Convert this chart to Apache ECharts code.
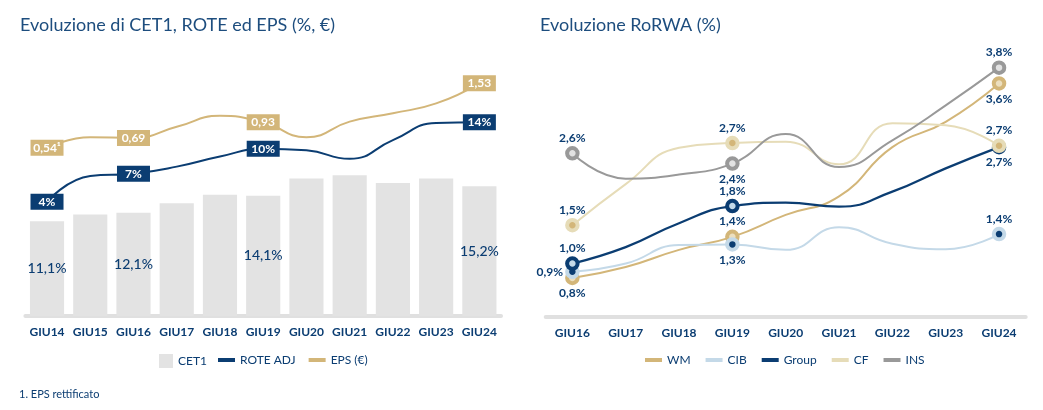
<!DOCTYPE html>
<html><head><meta charset="utf-8">
<script src="https://cdn.jsdelivr.net/npm/echarts@6/dist/echarts.min.js"></script>
<style>html,body{margin:0;padding:0;background:#fff}#c{width:1043px;height:410px}</style>
</head><body><div id="c"></div>
<script>
// ---------- data: left chart ----------
const leftCategories = ['GIU14','GIU15','GIU16','GIU17','GIU18','GIU19','GIU20','GIU21','GIU22','GIU23','GIU24'];
const cet1    = [11.1, 11.9, 12.1, 13.2, 14.2, 14.1, 16.1, 16.5, 15.6, 16.1, 15.2];
const roteAdj = [3.6, 6.9, 7.2, 8.1, 9.4, 10.4, 10.2, 9.1, 11.5, 13.7, 13.8];
const eps     = [0.54, 0.70, 0.69, 0.86, 1.03, 0.93, 0.70, 0.94, 1.07, 1.22, 1.53];
const leftLabelIdx = [0, 2, 5, 10];
const epsNotes = ['¹', '', '', '', '', '', '', '', '', '', ''];

// ---------- data: right chart ----------
const rightCategories = ['GIU16','GIU17','GIU18','GIU19','GIU20','GIU21','GIU22','GIU23','GIU24'];
const wm    = [0.77, 0.93, 1.18, 1.37, 1.69, 1.96, 2.68, 3.05, 3.61];
const cib   = [0.86, 0.98, 1.25, 1.26, 1.18, 1.51, 1.27, 1.19, 1.41];
const group = [0.98, 1.22, 1.57, 1.82, 1.87, 1.81, 2.03, 2.37, 2.68];
const cf    = [1.54, 2.14, 2.67, 2.74, 2.76, 2.43, 3.03, 3.00, 2.70];
const ins   = [2.59, 2.22, 2.28, 2.44, 2.87, 2.39, 2.78, 3.29, 3.84];
const rightLabelIdx = [0, 3, 8];

// ---------- styles ----------
const NAVY = '#0b3d72', GOLD = '#d3b679', BEIGE = '#e6dcb8', LBLUE = '#c4d9e8', GRAY = '#999999';
const TXT = '#0b3d72';
const FONT = 'Lato';

const rightLabelPos = {
  WM: ['bottom', 'top', 'bottom'],
  CIB: ['left', 'bottom', 'top'],
  Group: ['top', 'top', 'bottom'],
  CF: ['top', 'top', 'top'],
  INS: ['top', 'bottom', 'top']
};
const markerStyle = {
  WM: {color: '#ecdfbf', borderColor: GOLD},
  CIB: {color: NAVY, borderColor: LBLUE},
  Group: {color: LBLUE, borderColor: NAVY},
  CF: {color: GOLD, borderColor: BEIGE},
  INS: {color: '#e2e2e2', borderColor: GRAY}
};
const pct1 = v => v.toFixed(1).replace('.', ',') + '%';

function rightItems(name, vals) {
  return vals.map((v, i) => {
    const k = rightLabelIdx.indexOf(i);
    if (k < 0) return {value: v, symbol: 'none'};
    return {
      value: v, symbol: 'circle', symbolSize: 10.5,
      itemStyle: Object.assign({borderWidth: 4}, markerStyle[name]),
      label: {show: true, position: rightLabelPos[name][k], distance: 2}
    };
  });
}
function rightSeries(name, vals, color, width) {
  return {
    name, type: 'line', xAxisIndex: 1, yAxisIndex: 3, smooth: true,
    showAllSymbol: true,
    itemStyle: {color},
    lineStyle: {color, width: width || 2},
    label: {show: false, color: TXT, fontFamily: FONT, fontSize: 12, fontWeight: 'bold',
            formatter: p => pct1(p.value)},
    data: rightItems(name, vals)
  };
}
function leftLineItems(vals) {
  return vals.map((v, i) => leftLabelIdx.indexOf(i) < 0
    ? {value: v, symbol: 'none'}
    : {value: v, symbol: 'circle', symbolSize: 1, label: {show: true}});
}
function boxLabel(bg, fmt) {
  return {show: false, position: 'inside', backgroundColor: bg, color: '#fff',
          fontFamily: FONT, fontSize: 12, fontWeight: 'bold',
          width: 33, height: 16, lineHeight: 16, align: 'center', padding: 0,
          formatter: fmt};
}
const axisLabelStyle = {color: TXT, fontSize: 12, fontWeight: 'bold', fontFamily: FONT, margin: 10, interval: 0};
const legendText = {color: TXT, fontSize: 12, fontFamily: FONT};

const option = {
  animation: false,
  textStyle: {fontFamily: FONT},
  title: [
    {text: 'Evoluzione di CET1, ROTE ed EPS (%, €)', left: 15, top: 11,
     textStyle: {fontFamily: FONT, fontSize: 18, fontWeight: 'normal', color: '#1d4d7e'}},
    {text: 'Evoluzione RoRWA (%)', left: 535, top: 11,
     textStyle: {fontFamily: FONT, fontSize: 18, fontWeight: 'normal', color: '#1d4d7e'}},
    {text: '1. EPS rettificato', left: 14, top: 384,
     textStyle: {fontFamily: FONT, fontSize: 11, fontWeight: 'normal', color: TXT}}
  ],
  legend: [
    {data: ['CET1'], left: 154, top: 349, icon: 'rect', itemWidth: 14, itemHeight: 14, textStyle: legendText},
    {data: ['ROTE ADJ', 'EPS (€)'], left: 213, top: 349, icon: 'rect', itemWidth: 17, itemHeight: 4, itemGap: 13,
     textStyle: legendText},
    {data: ['WM', 'CIB', 'Group', 'CF', 'INS'], left: 640, top: 349, icon: 'rect', itemWidth: 17, itemHeight: 4, itemGap: 15,
     itemStyle: {borderWidth: 0}, textStyle: legendText}
  ],
  grid: [
    {left: 25.4, width: 475.6, top: 60, bottom: 94},
    {left: 545.7, width: 480, top: 60, bottom: 93}
  ],
  xAxis: [
    {type: 'category', gridIndex: 0, data: leftCategories,
     axisLine: {lineStyle: {color: '#e0e0e0', width: 4}}, axisTick: {show: false},
     axisLabel: axisLabelStyle},
    {type: 'category', gridIndex: 1, data: rightCategories,
     axisLine: {lineStyle: {color: '#e0e0e0', width: 4}}, axisTick: {show: false},
     axisLabel: axisLabelStyle}
  ],
  yAxis: [
    {type: 'value', gridIndex: 0, min: 0, max: 30, show: false},
    {type: 'value', gridIndex: 0, min: -11.05, max: 21.77, show: false},
    {type: 'value', gridIndex: 0, min: -2.05, max: 1.888, show: false},
    {type: 'value', gridIndex: 1, min: 0.2, max: 3.952, show: false}
  ],
  series: [
    {name: 'CET1', type: 'bar', xAxisIndex: 0, yAxisIndex: 0, barCategoryGap: '21%',
     itemStyle: {color: '#e3e3e3'},
     label: {show: false, position: 'inside', color: TXT, fontSize: 14, fontWeight: 500, fontFamily: FONT,
             formatter: p => pct1(p.value)},
     data: cet1.map((v, i) => leftLabelIdx.indexOf(i) < 0 ? v : {value: v, label: {show: true}})},
    {name: 'ROTE ADJ', type: 'line', xAxisIndex: 0, yAxisIndex: 1, smooth: true, showAllSymbol: true,
     itemStyle: {color: NAVY}, lineStyle: {color: NAVY, width: 2},
     label: boxLabel(NAVY, p => Math.round(p.value) + '%'),
     data: leftLineItems(roteAdj)},
    {name: 'EPS (€)', type: 'line', xAxisIndex: 0, yAxisIndex: 2, smooth: true, showAllSymbol: true,
     itemStyle: {color: GOLD}, lineStyle: {color: GOLD, width: 2},
     label: boxLabel(GOLD, p => p.value.toFixed(2).replace('.', ',') + epsNotes[p.dataIndex]),
     data: leftLineItems(eps)},
    rightSeries('WM', wm, GOLD, 2),
    rightSeries('CIB', cib, LBLUE, 2),
    rightSeries('Group', group, NAVY, 2.2),
    rightSeries('CF', cf, BEIGE, 2),
    rightSeries('INS', ins, GRAY, 2)
  ]
};
const chart = echarts.init(document.getElementById('c'), null, {renderer: 'canvas'});
chart.setOption(option);
</script>
</body></html>
